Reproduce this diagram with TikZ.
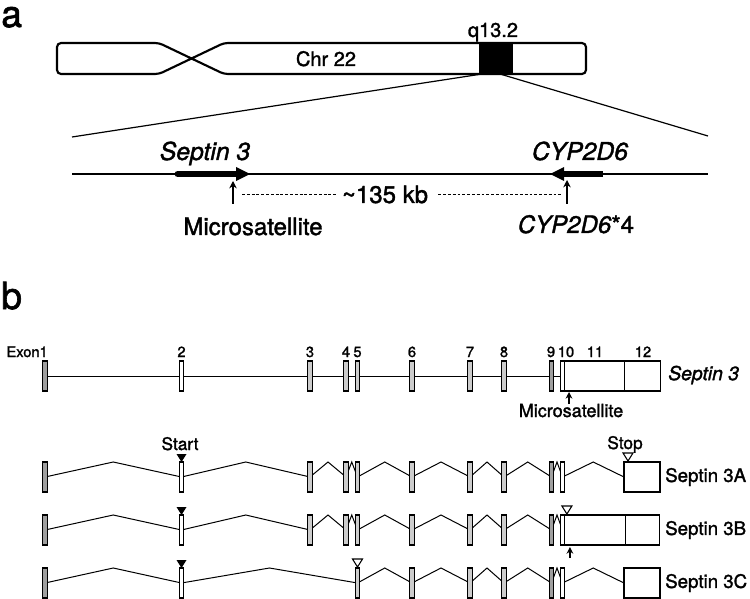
\documentclass[tikz,border=0pt]{standalone}
\usepackage{fontspec}
\setmainfont{TeX Gyre Heros}[FakeBold=1.6]
\usetikzlibrary{arrows.meta,calc}
\pgfdeclarelayer{bg}
\pgfsetlayers{bg,main}
\begin{document}
\begin{tikzpicture}[x=0.75pt,y=-0.75pt,
  chrom/.style={line width=1.6pt,line join=round},
  gline/.style={line width=0.9pt},
  intron/.style={line width=0.75pt},
  exon/.style={draw,line width=0.85pt,fill=gray!40,minimum width=3.6pt,minimum height=22.5pt,inner sep=0pt,outer sep=0pt},
  dexon/.style={exon,fill=gray!75},
  wexon/.style={exon,fill=white},
  bigbox/.style={draw,line width=0.8pt,fill=white,minimum height=22.5pt,inner sep=0pt,outer sep=0pt},
  panel/.style={font=\fontsize{28}{30}\selectfont,anchor=base west,inner sep=0pt},
  chrlab/.style={font=\fontsize{15}{17}\selectfont,inner sep=0pt,anchor=base},
  gene/.style={font=\fontsize{18.5}{20}\selectfont\itshape,inner sep=0pt,anchor=base},
  alab/.style={font=\fontsize{18}{20}\selectfont,inner sep=0pt,anchor=base},
  num/.style={font=\fontsize{11}{12}\selectfont,inner sep=0pt,anchor=base},
  blab/.style={font=\fontsize{14}{16}\selectfont,inner sep=0pt,anchor=west},
  sslab/.style={font=\fontsize{13}{15}\selectfont,inner sep=0pt,anchor=base},
  msb/.style={font=\fontsize{13.5}{15}\selectfont,inner sep=0pt,anchor=base},
  upar/.style={line width=1.4pt,-{Stealth[length=5.5pt,width=5.5pt]}},
  smallup/.style={line width=1.2pt,-{Stealth[length=5pt,width=5pt]}},
  dashln/.style={line width=0.8pt,dash pattern=on 2.2pt off 1.4pt},
  opentri/.style={line width=0.8pt,fill=white,line join=miter}
]
\useasboundingbox (0,0) rectangle (750,599);

% ---------------- panel a ----------------
\node[panel] (pa) at (1,27) {a};
\draw[chrom,rounded corners=3pt] (159,43) -- (224,74) -- (586,74) -- (586,43) -- (224,43) -- (159,74) -- (57,74) -- (57,43) -- cycle;
\node[fill=black,inner sep=0pt,outer sep=0pt,minimum width=25.5pt,minimum height=23.25pt] (band) at (496,58.5) {};
\node[chrlab] (chr) at (326,66) {Chr 22};
\node[chrlab] (q) at (493,37) {q13.2};

\coordinate (zl) at (72,137);
\coordinate (zr) at (708,136);
\draw[gline] ($(band.south west)+(3,0)$) -- (zl);
\draw[gline] ($(band.south)+(4,0)$) -- (zr);

\coordinate (gl) at (72,174);
\coordinate (gr) at (708,174);
\draw[gline] (gl) -- (gr);

% Septin 3 arrow
\coordinate (s3a) at (178,174);
\coordinate (s3b) at (250,174);
\draw[line width=5.2pt,line cap=round] (s3a) -- ($(s3b)+(-10,0)$);
\fill ($(s3b)+(-14,-7)$) -- (s3b) -- ($(s3b)+(-14,7)$) -- cycle;
% CYP2D6 arrow
\coordinate (cya) at (603,174);
\coordinate (cyb) at (550,174);
\draw[line width=5.2pt] (cya) -- ($(cyb)+(10,0)$);
\fill ($(cyb)+(14,-7)$) -- (cyb) -- ($(cyb)+(14,7)$) -- cycle;

\node[gene] (sep) at (205,160) {Septin 3};
\node[gene] (cyp) at (580,160) {CYP2D6};

\coordinate (m1) at (233,204);
\coordinate (m2) at (233,181);
\coordinate (c1) at (567,204);
\coordinate (c2) at (567,180);
\draw[upar] (m1) -- (m2);
\draw[upar] (c1) -- (c2);

\node[alab] (kb) at (385,203) {\char"7E 135 kb};
\draw[dashln] ($(kb.west -| m1)+(9,0)$) -- ($(kb.west)+(-6,0)$);
\draw[dashln] ($(kb.east)+(10,0)$) -- ($(kb.east -| c1)+(-5,0)$);

\node[alab] (ms) at (253,235) {Microsatellite};
\node[alab] (c4) at (576,233) {\textit{CYP2D6}*4};

% ---------------- panel b ----------------
\node[panel] (pb) at (1,309) {b};
\node[num,anchor=base east] (exlab) at (48,357) {Exon1};
\foreach \n/\x in {2/181.5,3/310,4/346,5/357.5,6/412,7/470,8/504,9/551,10/566,11/595,12/643}
  \node[num] (n\n) at (\x,357) {\n};

% gene structure
\foreach \n/\x/\s in {1/45/dexon,2/181.5/wexon,3/310/exon,4/346/exon,5/357.5/exon,6/412/exon,7/470/exon,8/504/exon,9/551.5/dexon,10/562.5/wexon}
  \node[\s] (T\n) at (\x,376) {};
\node[bigbox,minimum width=72pt,anchor=west] (TX) at (T10.east) {};
\draw[intron] ($(TX.north west)+(59.5,0)$) -- ($(TX.south west)+(59.5,0)$);
\begin{pgfonlayer}{bg}
\draw[intron] (T1.center) -- (T10.center);
\end{pgfonlayer}
\node[font=\fontsize{14.5}{16}\selectfont\itshape,anchor=west,inner sep=0pt] (tl) at (668,375) {Septin 3};
\draw[smallup] ($(T10.south)+(6.5,13)$) -- ($(T10.south)+(6.5,1)$);
\node[msb] (ms2) at (571,417) {Microsatellite};

% row A
\foreach \n/\x/\s in {1/45/dexon,2/181.5/wexon,3/310/exon,4/346/exon,5/357.5/exon,6/412/exon,7/470/exon,8/504/exon,9/551.5/dexon,10/562.5/wexon}
  \node[\s] (A\n) at (\x,477) {};
\node[bigbox,minimum width=27pt,anchor=west] (AX) at (624,477) {};
\begin{pgfonlayer}{bg}
\foreach \a/\b in {1/2,2/3,3/4,4/5,5/6,6/7,7/8,8/9,9/10}
  \draw[intron] (A\a.center) -- ($(A\a)!0.5!(A\b)+(0,-15)$) -- (A\b.center);
\draw[intron] (A10.center) -- ($(A10)!0.5!(AX.west)+(0,-15)$) -- (AX.west);
\end{pgfonlayer}

% row B
\foreach \n/\x/\s in {1/45/dexon,2/181.5/wexon,3/310/exon,4/346/exon,5/357.5/exon,6/412/exon,7/470/exon,8/504/exon,9/551.5/dexon,10/562.5/wexon}
  \node[\s] (B\n) at (\x,530) {};
\node[bigbox,minimum width=71.25pt,anchor=west] (BX) at (B10.east) {};
\draw[intron] ($(BX.north west)+(60.25,0)$) -- ($(BX.south west)+(60.25,0)$);
\begin{pgfonlayer}{bg}
\foreach \a/\b in {1/2,2/3,3/4,4/5,5/6,6/7,7/8,8/9,9/10}
  \draw[intron] (B\a.center) -- ($(B\a)!0.5!(B\b)+(0,-15)$) -- (B\b.center);
\end{pgfonlayer}

% row C
\foreach \n/\x/\s in {1/45/dexon,2/181.5/wexon,5/357.5/exon,6/412/exon,7/470/exon,8/504/exon,9/551.5/dexon,10/562.5/wexon}
  \node[\s] (C\n) at (\x,583) {};
\node[bigbox,minimum width=27pt,anchor=west] (CX) at (624,583) {};
\begin{pgfonlayer}{bg}
\foreach \a/\b in {1/2,2/5,5/6,6/7,7/8,8/9,9/10}
  \draw[intron] (C\a.center) -- ($(C\a)!0.5!(C\b)+(0,-15)$) -- (C\b.center);
\draw[intron] (C10.center) -- ($(C10)!0.5!(CX.west)+(0,-15)$) -- (CX.west);
\end{pgfonlayer}

% start / stop markers
\node[sslab] (start) at (180,450) {Start};
\node[sslab] (stop) at (625,449) {Stop};
\foreach \r in {A,B,C}
  \fill ($(\r2.north)+(-5,-8)$) -- ($(\r2.north)+(5,-8)$) -- (\r2.north) -- cycle;
\draw[opentri] ($(AX.north west)+(4,-1)$) -- ++(-5,-8) -- ++(10,0) -- cycle;
\draw[opentri] ($(BX.north west)+(2,-1)$) -- ++(-5,-8) -- ++(10,0) -- cycle;
\draw[opentri] ($(C5.north)+(0,-1)$) -- ++(-5,-8) -- ++(10,0) -- cycle;
\draw[smallup] ($(BX.south west)+(5,13)$) -- ($(BX.south west)+(5,2)$);

\node[blab] (la) at (665,477) {Septin 3A};
\node[blab] (lb) at (665,530) {Septin 3B};
\node[blab] (lc) at (665,583) {Septin 3C};
\end{tikzpicture}
\end{document}
